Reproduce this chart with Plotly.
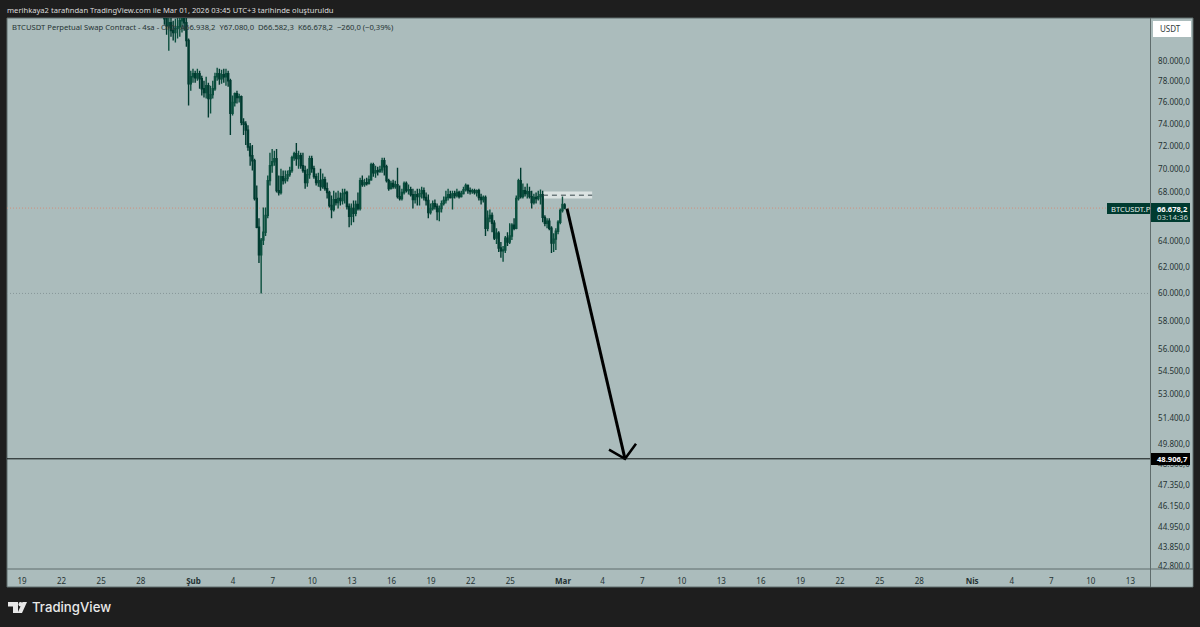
import pandas as pd
import plotly.graph_objects as go

W, H = 1200, 627
PANE_BG = "#abbcbc"
FRAME_BG = "#1e1e1e"
TEXT = "#253333"
DARK_GREEN = "#003b30"
FONT = "Noto Sans"

opens = [
    84680, 84270, 83540, 83850, 83030, 82830, 83240, 83440, 84060, 84270,
    83850, 82020, 77760, 78430, 78720, 78330, 78720, 78240, 77280, 76910,
    77570, 76340, 76720, 77280, 78430, 78720, 78240, 78620, 78430, 78720,
    78040, 74960, 75970, 76810, 76440, 76530, 74140, 73960, 73420, 71910,
    71140, 70700, 67470, 65120, 62930, 64090, 64720, 66080, 68980, 70270,
    70610, 70880, 68130, 67970, 69320, 68980, 69150, 69490, 69840, 70960,
    71310, 70880, 71140, 70270, 69840, 68810, 69490, 70880, 70010, 69320,
    68810, 68980, 68470, 69060, 68300, 67970, 66890, 66560, 67380, 67140,
    67470, 67300, 67880, 67970, 66810, 66000, 66640, 66240, 66970, 66640,
    68980, 68640, 68810, 68730, 69060, 70350, 69660, 69840, 69750, 69920,
    70700, 70180, 68980, 68300, 68730, 68470, 68640, 67630, 67470, 67970,
    68730, 68130, 68220, 67800, 67380, 67800, 67630, 67880, 68130, 67550,
    67300, 66320, 66640, 67050, 66810, 66400, 66640, 67050, 67300, 67550,
    67800, 67550, 67880, 67720, 67970, 67630, 67880, 68220, 68560, 68130,
    68050, 68130, 67970, 68130, 67550, 67380, 67550, 65040, 65840, 66080,
    65440, 64250, 64640, 63470, 63240, 63310, 64250, 63940, 64410, 65280,
    65040, 67470, 68980, 67630, 68130, 67880, 68050, 67630, 67140, 67550,
    67470, 67630, 67800, 65920, 65440, 65600, 65040, 63860, 64170, 64800,
    65520, 66480, 66938.2,
]
highs = [
    85310, 85100, 84680, 84470, 84060, 84270, 84580, 84890, 85100, 84680,
    84470, 82220, 79020, 79210, 79020, 79210, 79020, 78530, 78040, 78430,
    77850, 77570, 78040, 78820, 79310, 79210, 79120, 79210, 79210, 79020,
    78240, 76630, 76910, 77090, 76810, 76630, 74500, 74230, 73870, 72260,
    72090, 70880, 68560, 65840, 64250, 66730, 66730, 69410, 71400, 71730,
    71580, 71730, 69410, 70010, 69840, 69840, 69840, 70180, 71140, 71490,
    72260, 71580, 71400, 71400, 70270, 70010, 71140, 71140, 70270, 69580,
    69660, 70010, 69580, 69320, 68810, 68130, 67720, 68130, 67970, 68130,
    67970, 68300, 68300, 68130, 67050, 67050, 67300, 67300, 67970, 69230,
    69410, 69150, 69230, 69410, 70530, 70530, 70270, 70180, 70270, 70960,
    70960, 70350, 69150, 68980, 69060, 68980, 70090, 68560, 68300, 68900,
    68900, 68640, 68470, 68300, 68130, 68300, 68300, 68470, 68390, 67970,
    67800, 67050, 67300, 67380, 67050, 66890, 67300, 67630, 68130, 68300,
    68130, 68130, 68130, 68300, 68130, 68130, 68470, 68730, 68640, 68390,
    68300, 68300, 68220, 68300, 67880, 67720, 67720, 66480, 66560, 66320,
    65680, 65040, 64800, 63940, 63620, 64410, 64720, 65440, 65440, 65840,
    67720, 69150, 70090, 68730, 68470, 68730, 68470, 68130, 67880, 67970,
    68130, 68220, 68130, 66080, 65840, 65840, 65200, 64640, 65040, 65680,
    66640, 67630, 67080.0,
]
lows = [
    83640, 82620, 81000, 82420, 82020, 81820, 82220, 82420, 82830, 83030,
    81400, 75690, 77090, 77850, 77850, 78040, 77280, 76630, 76440, 76340,
    74590, 74960, 76340, 77090, 78040, 77660, 77760, 77850, 77570, 77470,
    72980, 74770, 75600, 75880, 75970, 73870, 72980, 72090, 71580, 70270,
    69840, 67300, 65040, 62310, 59990, 63700, 64410, 65840, 68560, 69660,
    70270, 67970, 67720, 67800, 68640, 68730, 68900, 69320, 69660, 70700,
    70270, 70010, 70010, 69660, 68300, 68470, 69150, 69660, 69150, 68560,
    68470, 68130, 68300, 68130, 67470, 66730, 65840, 66400, 66890, 66640,
    66890, 66970, 67050, 66560, 65120, 65280, 65520, 66000, 66480, 66480,
    68470, 68470, 68560, 68640, 68980, 69320, 69230, 69410, 69660, 69660,
    69410, 68810, 68130, 68220, 68300, 68300, 67470, 67300, 67300, 67800,
    67970, 67800, 67630, 66640, 67050, 66890, 66890, 67470, 67300, 66890,
    65840, 66160, 66480, 66560, 65680, 65600, 66320, 66890, 67050, 67300,
    67470, 66560, 67470, 67550, 67470, 67550, 67800, 68050, 67880, 67800,
    67880, 67800, 67630, 67300, 66970, 67140, 64410, 64800, 65520, 64720,
    64090, 63780, 63160, 62700, 62390, 63080, 63620, 63780, 64090, 64880,
    64960, 67300, 67470, 67470, 67630, 67470, 67470, 66640, 66970, 67050,
    67300, 66970, 65520, 65200, 65040, 64880, 63080, 63160, 63310, 64560,
    65360, 66320, 66582.3,
]
closes = [
    84270, 83540, 83850, 83030, 82830, 83240, 83440, 84060, 84270, 83850,
    82020, 77760, 78430, 78720, 78330, 78720, 78240, 77280, 76910, 77570,
    76340, 76720, 77280, 78430, 78720, 78240, 78620, 78430, 78720, 78040,
    74960, 75970, 76810, 76440, 76530, 74140, 73960, 73420, 71910, 71140,
    70700, 67470, 65120, 62930, 64090, 64720, 66080, 68980, 70270, 70610,
    70880, 68130, 67970, 69320, 68980, 69150, 69490, 69840, 70960, 71310,
    70880, 71140, 70270, 69840, 68810, 69490, 70880, 70010, 69320, 68810,
    68980, 68470, 69060, 68300, 67970, 66890, 66560, 67380, 67140, 67470,
    67300, 67880, 67970, 66810, 66000, 66640, 66240, 66970, 66640, 68980,
    68640, 68810, 68730, 69060, 70350, 69660, 69840, 69750, 69920, 70700,
    70180, 68980, 68300, 68730, 68470, 68640, 67630, 67470, 67970, 68730,
    68130, 68220, 67800, 67380, 67800, 67630, 67880, 68130, 67550, 67300,
    66320, 66640, 67050, 66810, 66400, 66640, 67050, 67300, 67550, 67800,
    67550, 67880, 67720, 67970, 67630, 67880, 68220, 68560, 68130, 68050,
    68130, 67970, 68130, 67550, 67380, 67550, 65040, 65840, 66080, 65440,
    64250, 64640, 63470, 63240, 63310, 64250, 63940, 64410, 65280, 65040,
    67470, 68980, 67630, 68130, 67880, 68050, 67630, 67140, 67550, 67470,
    67630, 67800, 65920, 65440, 65600, 65040, 63860, 64170, 64800, 65520,
    66480, 66970, 66678.2,
]
times = pd.date_range("2026-01-29 19:00", periods=len(closes), freq="4h")

price_ticks = [
    80000, 78000, 76000, 74000, 72000, 70000, 68000, 64000, 62000,
    60000, 58000, 56000, 54500, 53000, 51400, 49800, 48600, 47350, 46150,
    44950, 43850, 42800,
]
price_labels = [
    "80.000,0", "78.000,0", "76.000,0", "74.000,0", "72.000,0", "70.000,0",
    "68.000,0", "64.000,0", "62.000,0", "60.000,0", "58.000,0",
    "56.000,0", "54.500,0", "53.000,0", "51.400,0", "49.800,0", "48.600,0",
    "47.350,0", "46.150,0", "44.950,0", "43.850,0", "42.800,0",
]
date_ticks = [
    "2026-01-19", "2026-01-22", "2026-01-25", "2026-01-28", "2026-02-01",
    "2026-02-04", "2026-02-07", "2026-02-10", "2026-02-13", "2026-02-16",
    "2026-02-19", "2026-02-22", "2026-02-25", "2026-03-01", "2026-03-04",
    "2026-03-07", "2026-03-10", "2026-03-13", "2026-03-16", "2026-03-19",
    "2026-03-22", "2026-03-25", "2026-03-28", "2026-04-01", "2026-04-04",
    "2026-04-07", "2026-04-10", "2026-04-13",
]
date_labels = [
    "19", "22", "25", "28", "<b>Şub</b>", "4", "7", "10", "13", "16", "19",
    "22", "25", "<b>Mar</b>", "4", "7", "10", "13", "16", "19", "22", "25",
    "28", "<b>Nis</b>", "4", "7", "10", "13",
]

last_price = 66678.2
target_price = 48906.7
swing_low = 60000
zone_start, zone_end = "2026-02-27 11:30", "2026-03-03 05:00"
zone_low, zone_mid, zone_high = 67470, 67750, 68050
arrow_x = ["2026-03-01 07:15", "2026-03-05 16:45"]
arrow_y = [66640, 48906.7]
head_x = ["2026-03-04 11:40", "2026-03-05 16:45", "2026-03-06 12:45"]
head_y = [49460, 48906.7, 49830]


def fx(px):
    return px / W


def fy(px):
    return 1 - px / H


def box(x0, y0, x1, y1, fill, layer="above", line=None):
    return dict(
        type="rect", xref="paper", yref="paper", layer=layer,
        x0=fx(x0), x1=fx(x1), y0=fy(y0), y1=fy(y1),
        fillcolor=fill, line=dict(color=line or fill, width=1 if line else 0),
    )


def rule(x0, y0, x1, y1, color="#5f6c6c"):
    return dict(
        type="line", xref="paper", yref="paper", layer="above",
        x0=fx(x0), x1=fx(x1), y0=fy(y0), y1=fy(y1),
        line=dict(color=color, width=1),
    )


def label(x, y, text, size, color, family=FONT, weight=None):
    font = dict(family=family, size=size, color=color)
    if weight:
        font["weight"] = weight
    return dict(
        xref="paper", yref="paper", x=fx(x), y=fy(y), text=text, showarrow=False,
        xanchor="left", yanchor="middle", align="left", font=font,
    )


fig = go.Figure()

fig.add_trace(go.Candlestick(
    x=times, open=opens, high=highs, low=lows, close=closes,
    increasing=dict(line=dict(color="#0b4f3e", width=1.4), fillcolor="#2a7350"),
    decreasing=dict(line=dict(color=DARK_GREEN, width=1.4), fillcolor=DARK_GREEN),
    hoverinfo="skip",
))

# hand drawn arrow
fig.add_trace(go.Scatter(
    x=arrow_x, y=arrow_y, mode="lines",
    line=dict(color="#000000", width=3), hoverinfo="skip",
))
fig.add_trace(go.Scatter(
    x=head_x, y=head_y, mode="lines",
    line=dict(color="#000000", width=2.5), hoverinfo="skip",
))

shapes = [
    box(7, 18, 1193, 587, PANE_BG, layer="below", line="#5f6c6c"),
    dict(type="rect", xref="x", yref="y", layer="below",
         x0=zone_start, x1=zone_end, y0=zone_low, y1=zone_high,
         fillcolor="#dbe3e2", line=dict(width=0)),
    dict(type="line", xref="x", yref="y", layer="above",
         x0=zone_start, x1=zone_end, y0=zone_mid, y1=zone_mid,
         line=dict(color="#37474a", width=1, dash="5px,4px")),
    dict(type="line", xref="x domain", yref="y", layer="below",
         x0=0, x1=1, y0=last_price, y1=last_price,
         line=dict(color="#cf8f7c", width=1, dash="1px,2px")),
    dict(type="line", xref="x domain", yref="y", layer="below",
         x0=0, x1=1, y0=swing_low, y1=swing_low,
         line=dict(color="#87979a", width=1, dash="1px,2px")),
    dict(type="line", xref="x domain", yref="y", layer="above",
         x0=0, x1=1, y0=target_price, y1=target_price,
         line=dict(color="#0c1212", width=1)),
    # scale corner hides the clipped bottom tick label
    box(1151, 569.5, 1192.5, 586.5, PANE_BG),
    rule(7, 569, 1193, 569),
    rule(1150.5, 18, 1150.5, 587),
    # scale currency button
    box(1153, 21, 1191, 37, "#ffffff"),
    # last price tags
    box(1107, 203, 1150, 214, DARK_GREEN),
    box(1151, 203, 1190, 222, DARK_GREEN),
    box(1151, 453, 1190, 465, "#000000"),
    # TradingView logo
    dict(type="path", xref="paper", yref="paper", layer="above", line=dict(width=0),
         fillcolor="#e8e8e8",
         path=f"M {fx(8)} {fy(602)} L {fx(18)} {fy(602)} L {fx(18)} {fy(613)} "
              f"L {fx(13)} {fy(613)} L {fx(13)} {fy(606.5)} L {fx(8)} {fy(606.5)} Z"),
    dict(type="path", xref="paper", yref="paper", layer="above", line=dict(width=0),
         fillcolor="#e8e8e8",
         path=f"M {fx(22.5)} {fy(602)} L {fx(27)} {fy(602)} L {fx(22)} {fy(613)} "
              f"L {fx(17.5)} {fy(613)} Z"),
    dict(type="circle", xref="paper", yref="paper", layer="above", line=dict(width=0),
         fillcolor="#e8e8e8", x0=fx(18.5), x1=fx(22.5), y0=fy(606.5), y1=fy(602)),
]

annotations = [
    label(5, 10, "merihkaya2 tarafından TradingView.com ile Mar 01, 2026 03:45 UTC+3 tarihinde oluşturuldu",
          7.6, "#dcdcdc"),
    label(10, 27, "BTCUSDT Perpetual Swap Contract - 4sa - OKX &nbsp;A66.938,2 &nbsp;Y67.080,0 &nbsp;D66.582,3 &nbsp;K66.678,2 &nbsp;−260,0 (−0,39%)",
          7.65, TEXT),
    label(1158, 29, "USDT", 8, "#333b3b"),
    label(1109, 208.5, "BTCUSDT.P", 7.6, "#e6efec"),
    label(1155, 208.5, "<b>66.678,2</b>", 7.6, "#ffffff"),
    label(1155, 217, "03:14:36", 7.8, "#c9d6d2"),
    label(1155, 459, "<b>48.906,7</b>", 7.6, "#ffffff"),
    label(30, 607, "TradingView", 13.2, "#e8e8e8", family="Inter", weight=500),
]

fig.update_layout(
    width=W, height=H,
    margin=dict(l=0, r=0, t=0, b=0, autoexpand=False),
    paper_bgcolor=FRAME_BG,
    plot_bgcolor=PANE_BG,
    showlegend=False,
    hovermode=False,
    font=dict(family=FONT, size=8, color=TEXT),
    shapes=shapes,
    annotations=annotations,
    xaxis=dict(
        type="date",
        domain=[fx(7), fx(1150.5)],
        range=["2026-01-17 20:45", "2026-04-14 12:30"],
        rangeslider=dict(visible=False),
        tickmode="array", tickvals=date_ticks, ticktext=date_labels,
        ticks="outside", ticklen=4, tickcolor="rgba(0,0,0,0)",
        showgrid=False, zeroline=False, showline=False,
        tickfont=dict(family=FONT, size=8, color=TEXT),
    ),
    yaxis=dict(
        type="log",
        side="right",
        domain=[fy(569), fy(18)],
        range=[4.6302, 4.92604],
        tickmode="array", tickvals=price_ticks, ticktext=price_labels,
        ticks="outside", ticklen=5, tickcolor="rgba(0,0,0,0)",
        showgrid=False, zeroline=False, showline=False,
        tickfont=dict(family=FONT, size=8, color=TEXT),
    ),
)

# page must be exactly the figure size, no body margin or baseline gap
page_fix = (
    "document.body.style.margin='0';"
    "document.body.style.background='#1e1e1e';"
    "document.documentElement.style.overflow='hidden';"
    "document.body.style.overflow='hidden';"
)
fig.write_html("out.html", config={"displayModeBar": False}, post_script=page_fix)
